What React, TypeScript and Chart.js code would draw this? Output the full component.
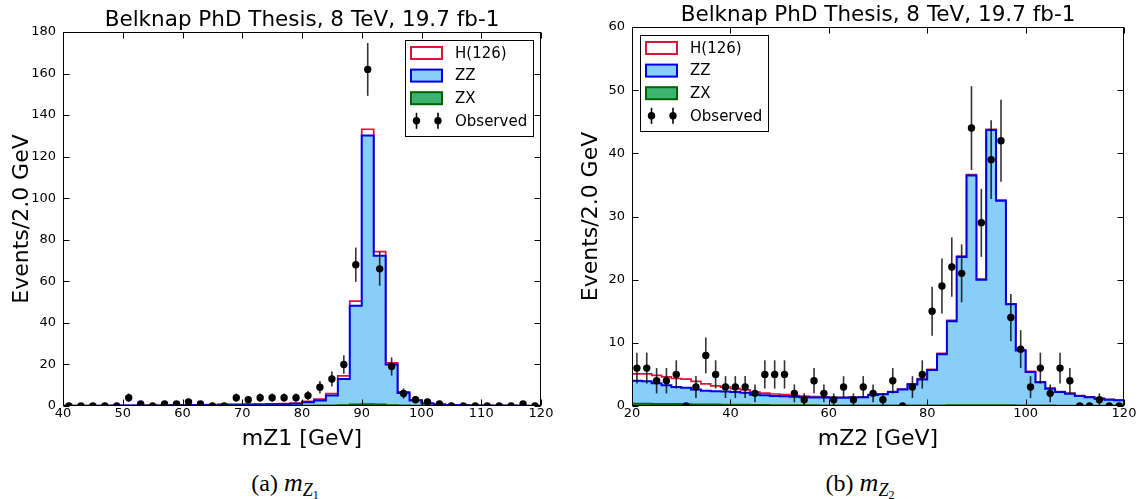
import React, { useEffect, useRef } from 'react';
import { Chart, registerables } from 'chart.js';

Chart.register(...registerables);

const SANS = '"DejaVu Sans", "Liberation Sans", sans-serif';
const SERIF = '"Liberation Serif", "DejaVu Serif", serif';

const PLOT_TITLE = 'Belknap PhD Thesis, 8 TeV, 19.7 fb-1';
const Y_TITLE = 'Events/2.0 GeV';
const LEGEND_LABELS = ['H(126)', 'ZZ', 'ZX', 'Observed'];

// ---- mZ1: 2 GeV bins from 40 to 120 GeV ----
const MZ1_FIRST_EDGE = 40;
const MZ1_BIN_WIDTH = 2;
const mz1ZX = [
  0.02, 0.02, 0.03, 0.03, 0.03, 0.04, 0.04, 0.05, 0.05, 0.05,
  0.06, 0.06, 0.07, 0.07, 0.08, 0.08, 0.09, 0.1, 0.1, 0.12,
  0.15, 0.2, 0.3, 0.4, 0.7, 0.8, 0.7, 0.4, 0.2, 0.1,
  0.08, 0.06, 0.05, 0.04, 0.04, 0.03, 0.03, 0.02, 0.02, 0.02,
];
const mz1ZZ = [
  0.08, 0.08, 0.12, 0.12, 0.17, 0.16, 0.21, 0.25, 0.25, 0.3,
  0.34, 0.39, 0.43, 0.48, 0.52, 0.57, 0.61, 0.7, 0.8, 0.98,
  1.65, 2.4, 4.7, 12.6, 47.6, 129.4, 71.6, 19.6, 6.0, 2.5,
  1.12, 0.64, 0.45, 0.36, 0.26, 0.22, 0.17, 0.18, 0.13, 0.08,
];
const mz1Higgs = [
  0.05, 0.05, 0.05, 0.05, 0.05, 0.1, 0.1, 0.1, 0.15, 0.15,
  0.15, 0.15, 0.2, 0.2, 0.2, 0.25, 0.25, 0.2, 0.2, 0.3,
  0.4, 0.7, 1.0, 1.5, 2.2, 3.0, 2.0, 0.8, 0.6, 0.3,
  0.2, 0.1, 0.05, 0.05, 0.05, 0.05, 0.05, 0, 0, 0,
];
const mz1Observed = [
  0, 0, 0, 0, 0, 4, 1, 0, 1, 1,
  2, 1, 0, 0, 4, 3, 4, 4, 4, 4,
  5, 9, 13, 20, 68, 162, 66, 19, 6, 3,
  2, 1, 0, 0, 0, 0, 0, 0, 1, 0,
];
const mz1XTicks = [40, 50, 60, 70, 80, 90, 100, 110, 120];
const mz1YTicks = [0, 20, 40, 60, 80, 100, 120, 140, 160, 180];

// ---- mZ2: 2 GeV bins from 20 to 120 GeV ----
const MZ2_FIRST_EDGE = 20;
const MZ2_BIN_WIDTH = 2;
const mz2ZX = [
  0.35, 0.35, 0.3, 0.3, 0.3, 0.28, 0.25, 0.25, 0.22, 0.2,
  0.2, 0.18, 0.15, 0.15, 0.12, 0.12, 0.1, 0.1, 0.1, 0.08,
  0.08, 0.08, 0.08, 0.08, 0.08, 0.08, 0.08, 0.08, 0.08, 0.08,
  0.08, 0.08, 0.1, 0.1, 0.1, 0.1, 0.1, 0.1, 0.1, 0.08,
  0.08, 0.07, 0.06, 0.05, 0.05, 0.05, 0.04, 0.04, 0.03, 0.03,
];
const mz2ZZ = [
  3.65, 3.55, 3.3, 3.0, 2.7, 2.62, 2.35, 2.15, 2.13, 2.1,
  2.0, 1.92, 1.65, 1.55, 1.48, 1.43, 1.35, 1.3, 1.25, 1.27,
  1.22, 1.22, 1.27, 1.32, 1.67, 1.77, 2.12, 2.52, 3.32, 4.12,
  5.62, 8.12, 13.3, 23.5, 36.4, 19.9, 43.6, 32.4, 16.0, 8.72,
  5.32, 3.68, 2.69, 2.15, 1.9, 1.55, 1.36, 1.11, 0.97, 0.87,
];
const mz2Higgs = [
  1.1, 1.2, 1.25, 1.3, 1.35, 1.35, 1.3, 1.1, 0.85, 0.7,
  0.55, 0.45, 0.4, 0.35, 0.3, 0.25, 0.2, 0.15, 0.12, 0.1,
  0.08, 0.08, 0.06, 0.06, 0.06, 0.06, 0.06, 0.08, 0.1, 0.12,
  0.12, 0.15, 0.15, 0.15, 0.15, 0.1, 0.1, 0.1, 0.08, 0.08,
  0.08, 0.08, 0.08, 0.08, 0.08, 0.06, 0.06, 0.05, 0.05, 0.05,
];
const mz2Observed = [
  6, 6, 4, 4, 5, 0, 3, 8, 5, 3,
  3, 3, 2, 5, 5, 5, 2, 1, 4, 2,
  1, 3, 1, 3, 2, 1, 4, 0, 3, 5,
  15, 19, 22, 21, 44, 29, 39, 42, 14, 9,
  3, 6, 2, 6, 4, 0, 0, 1, 0, 0,
];
const mz2XTicks = [20, 40, 60, 80, 100, 120];
const mz2YTicks = [0, 10, 20, 30, 40, 50, 60];

const COLORS = {
  higgsEdge: '#dc143c',
  zzFill: '#87cefa',
  zzEdge: '#0000e0',
  zxFill: '#3cb371',
  zxEdge: '#006400',
  data: '#000000',
};

type Panel = {
  firstEdge: number;
  binWidth: number;
  zx: number[];
  zz: number[];
  higgs: number[];
  observed: number[];
  xTicks: number[];
  yTicks: number[];
  xTitle: string;
  legendSide: 'left' | 'right';
  yAxisWidth: number;
  padRight: number;
  padTop: number;
};

// Outline of a filled histogram: rises from zero at the first edge,
// steps across every bin, and drops back to zero at the last edge.
function histogramOutline(firstEdge: number, width: number, values: number[]) {
  const pts = [{ x: firstEdge, y: 0 }];
  values.forEach((v, i) => pts.push({ x: firstEdge + i * width, y: v }));
  const lastEdge = firstEdge + values.length * width;
  pts.push({ x: lastEdge, y: values[values.length - 1] });
  pts.push({ x: lastEdge, y: 0 });
  return pts;
}

function decorPlugin(p: Panel) {
  return {
    id: 'hepDecor',
    afterDatasetsDraw(chart: any) {
      const { ctx, chartArea: a, scales } = chart;
      const xs = scales.x;
      const ys = scales.y;

      // Poisson error bars on the observed counts
      ctx.save();
      ctx.beginPath();
      ctx.rect(a.left, a.top, a.right - a.left, a.bottom - a.top);
      ctx.clip();
      ctx.strokeStyle = 'rgba(0,0,0,0.8)';
      ctx.lineWidth = 1.6;
      p.observed.forEach((n, i) => {
        if (n <= 0) return;
        const err = Math.sqrt(n);
        const px = xs.getPixelForValue(p.firstEdge + (i + 0.5) * p.binWidth);
        ctx.beginPath();
        ctx.moveTo(px, ys.getPixelForValue(n - err));
        ctx.lineTo(px, ys.getPixelForValue(n + err));
        ctx.stroke();
      });
      ctx.restore();

      // axes frame with inward ticks on all four sides
      ctx.save();
      ctx.strokeStyle = '#000';
      ctx.lineWidth = 1;
      const L = Math.round(a.left) + 0.5;
      const R = Math.round(a.right) - 0.5;
      const T = Math.round(a.top) + 0.5;
      const B = Math.round(a.bottom) - 0.5;
      ctx.strokeRect(L, T, R - L, B - T);
      const tick = 6;
      ctx.beginPath();
      p.xTicks.forEach((v) => {
        const px = Math.round(xs.getPixelForValue(v)) + 0.5;
        ctx.moveTo(px, B);
        ctx.lineTo(px, B - tick);
        ctx.moveTo(px, T);
        ctx.lineTo(px, T + tick);
      });
      p.yTicks.forEach((v) => {
        const py = Math.round(ys.getPixelForValue(v)) + 0.5;
        ctx.moveTo(L, py);
        ctx.lineTo(L + tick, py);
        ctx.moveTo(R, py);
        ctx.lineTo(R - tick, py);
      });
      ctx.stroke();
      ctx.restore();

      // legend
      const bw = 128;
      const bh = 96;
      const inset = 8;
      const bx = Math.round(p.legendSide === 'right' ? a.right - inset - bw : a.left + inset);
      const by = Math.round(a.top + inset);
      ctx.save();
      ctx.fillStyle = '#fff';
      ctx.fillRect(bx, by, bw, bh);
      ctx.strokeStyle = '#000';
      ctx.lineWidth = 1;
      ctx.strokeRect(bx + 0.5, by + 0.5, bw, bh);
      const rowY = (i: number) => by + 13 + 22.6 * i;
      const patch = (i: number, fill: string, edge: string) => {
        const y = rowY(i);
        ctx.fillStyle = fill;
        ctx.fillRect(bx + 6, y - 6, 31, 12);
        ctx.strokeStyle = edge;
        ctx.lineWidth = 2;
        ctx.strokeRect(bx + 6, y - 6, 31, 12);
      };
      patch(0, '#ffffff', COLORS.higgsEdge);
      patch(1, COLORS.zzFill, COLORS.zzEdge);
      patch(2, COLORS.zxFill, COLORS.zxEdge);
      const oy = rowY(3);
      [bx + 11.5, bx + 33].forEach((cx) => {
        ctx.strokeStyle = '#000';
        ctx.lineWidth = 1.6;
        ctx.beginPath();
        ctx.moveTo(cx, oy - 8);
        ctx.lineTo(cx, oy + 8);
        ctx.stroke();
        ctx.fillStyle = '#000';
        ctx.beginPath();
        ctx.arc(cx, oy, 3.7, 0, Math.PI * 2);
        ctx.fill();
      });
      ctx.fillStyle = '#000';
      ctx.font = `15px ${SANS}`;
      ctx.textAlign = 'left';
      ctx.textBaseline = 'middle';
      LEGEND_LABELS.forEach((label, i) => ctx.fillText(label, bx + 50, rowY(i) + 1));
      ctx.restore();
    },
    afterDraw(chart: any) {
      const { ctx, chartArea: a } = chart;
      const cx = (a.left + a.right) / 2;
      const cy = (a.top + a.bottom) / 2;
      ctx.save();
      ctx.fillStyle = '#000';
      ctx.textAlign = 'center';
      ctx.font = `21.5px ${SANS}`;
      ctx.textBaseline = 'alphabetic';
      ctx.fillText(PLOT_TITLE, cx, a.top - 6);
      ctx.font = `22px ${SANS}`;
      ctx.fillText(p.xTitle, cx, a.bottom + 39);
      ctx.translate(a.left - 41, cy);
      ctx.rotate(-Math.PI / 2);
      ctx.textBaseline = 'middle';
      ctx.fillText(Y_TITLE, 0, 0);
      ctx.restore();
    },
  };
}

function buildConfig(p: Panel): any {
  const zxTop = p.zx;
  const zzTop = p.zz.map((v, i) => v + p.zx[i]);
  const higgsTop = p.higgs.map((v, i) => v + zzTop[i]);
  const points = p.observed.map((n, i) => ({ x: p.firstEdge + (i + 0.5) * p.binWidth, y: n }));
  const lastEdge = p.firstEdge + p.zz.length * p.binWidth;
  const tickFont = { family: SANS, size: 13 };
  return {
    type: 'line',
    data: {
      datasets: [
        {
          label: 'Observed',
          data: points,
          showLine: false,
          pointRadius: 3.7,
          pointHoverRadius: 3.7,
          pointBackgroundColor: COLORS.data,
          pointBorderWidth: 0,
          order: 1,
        },
        {
          label: 'ZX',
          data: histogramOutline(p.firstEdge, p.binWidth, zxTop),
          stepped: true,
          borderColor: COLORS.zxEdge,
          backgroundColor: COLORS.zxFill,
          borderWidth: 2,
          fill: 'origin',
          pointRadius: 0,
          order: 2,
        },
        {
          label: 'ZZ',
          data: histogramOutline(p.firstEdge, p.binWidth, zzTop),
          stepped: true,
          borderColor: COLORS.zzEdge,
          backgroundColor: COLORS.zzFill,
          borderWidth: 2,
          fill: 'origin',
          pointRadius: 0,
          order: 3,
        },
        {
          label: 'H(126)',
          data: histogramOutline(p.firstEdge, p.binWidth, higgsTop),
          stepped: true,
          borderColor: COLORS.higgsEdge,
          borderWidth: 1.7,
          fill: false,
          pointRadius: 0,
          order: 4,
        },
      ],
    },
    options: {
      responsive: false,
      animation: false,
      devicePixelRatio: 1,
      events: [],
      layout: { padding: { left: 0, right: p.padRight, top: p.padTop, bottom: 0 } },
      plugins: { legend: { display: false }, tooltip: { enabled: false }, title: { display: false } },
      scales: {
        x: {
          type: 'linear',
          min: p.firstEdge,
          max: lastEdge,
          afterBuildTicks: (s: any) => {
            s.ticks = p.xTicks.map((value) => ({ value }));
          },
          afterFit: (s: any) => {
            s.height = 54;
          },
          grid: { display: false, drawTicks: false },
          border: { display: false },
          ticks: { font: tickFont, color: '#000', padding: 0, maxRotation: 0, autoSkip: false },
        },
        y: {
          type: 'linear',
          min: p.yTicks[0],
          max: p.yTicks[p.yTicks.length - 1],
          afterBuildTicks: (s: any) => {
            s.ticks = p.yTicks.map((value) => ({ value }));
          },
          afterFit: (s: any) => {
            s.width = p.yAxisWidth;
          },
          grid: { display: false, drawTicks: false },
          border: { display: false },
          ticks: { font: tickFont, color: '#000', padding: 7, autoSkip: false },
        },
      },
    },
    plugins: [decorPlugin(p)],
  };
}

const mz1Panel: Panel = {
  firstEdge: MZ1_FIRST_EDGE,
  binWidth: MZ1_BIN_WIDTH,
  zx: mz1ZX,
  zz: mz1ZZ,
  higgs: mz1Higgs,
  observed: mz1Observed,
  xTicks: mz1XTicks,
  yTicks: mz1YTicks,
  xTitle: 'mZ1 [GeV]',
  legendSide: 'right',
  yAxisWidth: 63,
  padRight: 29,
  padTop: 32,
};

const mz2Panel: Panel = {
  firstEdge: MZ2_FIRST_EDGE,
  binWidth: MZ2_BIN_WIDTH,
  zx: mz2ZX,
  zz: mz2ZZ,
  higgs: mz2Higgs,
  observed: mz2Observed,
  xTicks: mz2XTicks,
  yTicks: mz2YTicks,
  xTitle: 'mZ2 [GeV]',
  legendSide: 'left',
  yAxisWidth: 62,
  padRight: 21,
  padTop: 27,
};

function HistogramPanel({ panel, width, height }: { panel: Panel; width: number; height: number }) {
  const ref = useRef<HTMLCanvasElement>(null);
  useEffect(() => {
    const chart = new Chart(ref.current as HTMLCanvasElement, buildConfig(panel));
    return () => chart.destroy();
  }, [panel]);
  return <canvas ref={ref} width={width} height={height} style={{ display: 'block', width, height }} />;
}

function Caption({ letter, index }: { letter: string; index: string }) {
  return (
    <span>
      ({letter}){' '}
      <i style={{ fontSize: 26 }}>m</i>
      <span style={{ fontSize: 18, position: 'relative', top: 5, fontStyle: 'italic' }}>
        Z
        <span style={{ fontSize: 12, position: 'relative', top: 3, fontStyle: 'normal' }}>{index}</span>
      </span>
    </span>
  );
}

export default function App() {
  const captionStyle: React.CSSProperties = {
    position: 'absolute',
    top: 471,
    height: 28,
    textAlign: 'center',
    fontFamily: SERIF,
    fontSize: 24,
    lineHeight: '24px',
    color: '#000',
  };
  return (
    <div style={{ position: 'absolute', left: 0, top: 0, width: 1145, height: 499, background: '#fff', overflow: 'hidden' }}>
      <div style={{ position: 'absolute', left: 0, top: 0 }}>
        <HistogramPanel panel={mz1Panel} width={570} height={460} />
      </div>
      <div style={{ position: 'absolute', left: 570, top: 0 }}>
        <HistogramPanel panel={mz2Panel} width={575} height={460} />
      </div>
      <div style={{ ...captionStyle, left: 0, width: 570 }}>
        <Caption letter="a" index="1" />
      </div>
      <div style={{ ...captionStyle, left: 575, width: 570 }}>
        <Caption letter="b" index="2" />
      </div>
    </div>
  );
}
